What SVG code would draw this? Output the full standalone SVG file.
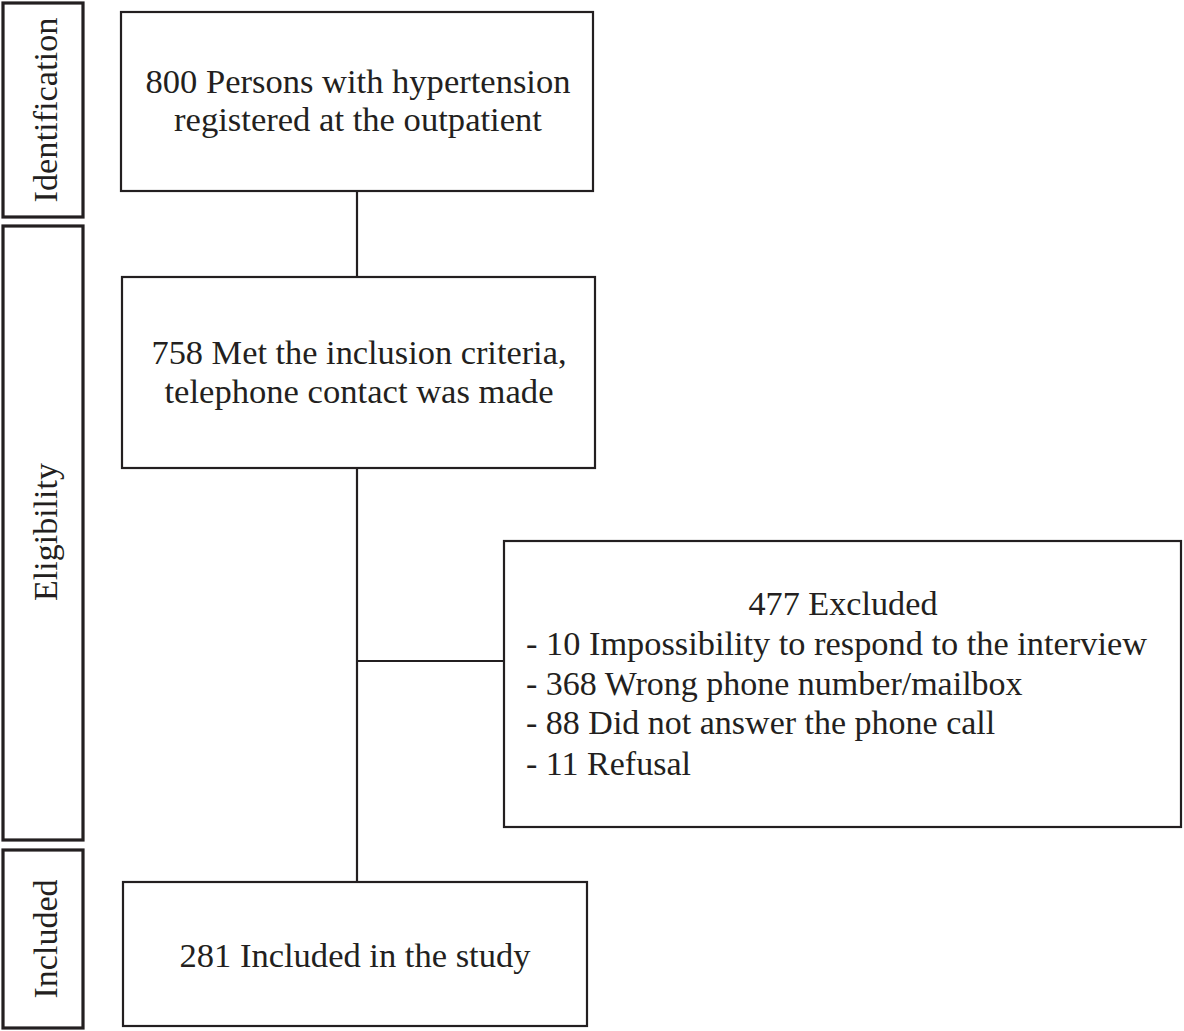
<svg xmlns="http://www.w3.org/2000/svg" width="1184" height="1031" viewBox="0 0 1184 1031">
<style>
.side{fill:#fff;stroke:#231f20;stroke-width:3.2}
.box{fill:#fff;stroke:#231f20;stroke-width:2.2}
.t{font-family:"Liberation Serif","Times New Roman",serif;font-size:34px;fill:#231f20}
.c{text-anchor:middle}
.conn{stroke:#231f20;stroke-width:2.2;fill:none}
</style>
<rect width="1184" height="1031" fill="#fff"/>
<g id="connectors">
<line class="conn" x1="357" y1="191" x2="357" y2="277"/>
<line class="conn" x1="357" y1="468" x2="357" y2="882"/>
<line class="conn" x1="357" y1="661" x2="504" y2="661"/>
</g>
<g id="stage-identification">
<rect class="side" x="3" y="3" width="80" height="214"/>
<text class="t c" transform="translate(57,110) rotate(-90)" textLength="185" lengthAdjust="spacingAndGlyphs">Identification</text>
</g>
<g id="stage-eligibility">
<rect class="side" x="3" y="226" width="80" height="614"/>
<text class="t c" transform="translate(57,532) rotate(-90)">Eligibility</text>
</g>
<g id="stage-included">
<rect class="side" x="3" y="850" width="80" height="178"/>
<text class="t c" transform="translate(57,939) rotate(-90)">Included</text>
</g>
<g id="node-identified">
<rect class="box" x="121" y="12" width="472" height="179"/>
<text class="t c" x="358" y="93" textLength="425" lengthAdjust="spacingAndGlyphs">800 Persons with hypertension</text>
<text class="t c" x="358" y="131" textLength="368" lengthAdjust="spacingAndGlyphs">registered at the outpatient</text>
</g>
<g id="node-eligible">
<rect class="box" x="122" y="277" width="473" height="191"/>
<text class="t c" x="359" y="364" textLength="415" lengthAdjust="spacingAndGlyphs">758 Met the inclusion criteria,</text>
<text class="t c" x="359" y="403" textLength="389" lengthAdjust="spacingAndGlyphs">telephone contact was made</text>
</g>
<g id="node-excluded">
<rect class="box" x="504" y="541" width="677" height="286"/>
<text class="t c" x="843" y="615" textLength="189" lengthAdjust="spacingAndGlyphs">477 Excluded</text>
<text class="t" x="526" y="655" textLength="621" lengthAdjust="spacingAndGlyphs">- 10 Impossibility to respond to the interview</text>
<text class="t" x="526" y="695">- 368 Wrong phone number/mailbox</text>
<text class="t" x="526" y="734">- 88 Did not answer the phone call</text>
<text class="t" x="526" y="775">- 11 Refusal</text>
</g>
<g id="node-included">
<rect class="box" x="123" y="882" width="464" height="144"/>
<text class="t c" x="355" y="967" textLength="351" lengthAdjust="spacingAndGlyphs">281 Included in the study</text>
</g>
</svg>
